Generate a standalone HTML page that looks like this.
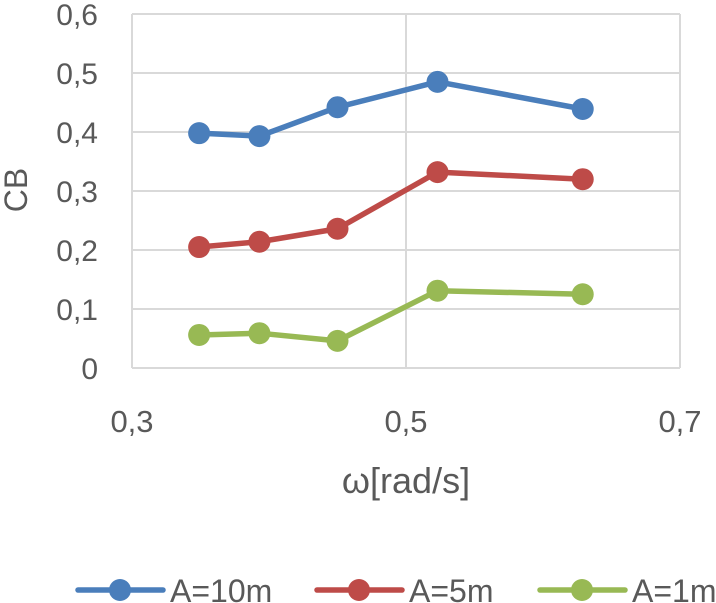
<!DOCTYPE html>
<html><head><meta charset="utf-8"><style>
body{margin:0;background:#fff;}
svg{display:block;font-family:"Liberation Sans","DejaVu Sans",sans-serif;}
</style></head><body>
<svg id="chart" width="716" height="603"></svg>
<script>
const xValues=[0.349,0.393,0.450,0.523,0.629];
const seriesNames=["A=10m","A=5m","A=1m"];
const seriesA10=[0.398,0.393,0.442,0.485,0.439];
const seriesA5=[0.205,0.214,0.236,0.332,0.320];
const seriesA1=[0.056,0.059,0.046,0.131,0.125];
const yTicks=[0,0.1,0.2,0.3,0.4,0.5,0.6];
const yTickLabels=["0","0,1","0,2","0,3","0,4","0,5","0,6"];
const xTicks=[0.3,0.5,0.7];
const xTickLabels=["0,3","0,5","0,7"];
const colors=["#4a7ebb","#be4b48","#98b954"];
const NS="http://www.w3.org/2000/svg";
const svg=document.getElementById('chart');
const X=v=>132+(v-0.3)/0.4*548;
const Y=v=>368-v/0.6*354;
function mk(t,a){const e=document.createElementNS(NS,t);for(const k in a)e.setAttribute(k,a[k]);svg.appendChild(e);return e;}
yTicks.forEach((t,i)=>{
 const l=mk('line',{x1:132,x2:680,y1:Y(t),y2:Y(t),stroke:'#d9d9d9','stroke-width':2});
 
 
 const tx=mk('text',{x:98,y:Y(t)+11,'text-anchor':'end','font-size':30,fill:'#595959'});
 tx.textContent=yTickLabels[i];
 
 
});
xTicks.forEach((t,i)=>{
 const l=mk('line',{x1:X(t),x2:X(t),y1:Y(0.6),y2:Y(0),stroke:'#d9d9d9','stroke-width':2});
 
 
 const tx=mk('text',{x:X(t),y:432,'text-anchor':'middle','font-size':31,fill:'#595959'});
 tx.textContent=xTickLabels[i];
 
 
});
const yt=mk('text',{x:0,y:0,transform:'translate(27,190) rotate(-90)','text-anchor':'middle','font-size':32,fill:'#595959'});
yt.textContent='CB';


const xt=mk('text',{x:406,y:493,'text-anchor':'middle','font-size':36,fill:'#595959'});
xt.textContent='ω[rad/s]';


[seriesA10,seriesA5,seriesA1].forEach((s,si)=>{
 const p=mk('polyline',{points:s.map((v,i)=>X(xValues[i])+','+Y(v)).join(' '),fill:'none',stroke:colors[si],'stroke-width':5.5,'stroke-linejoin':'round'});
 
 
 s.forEach((v,i)=>{
  const c=mk('circle',{cx:X(xValues[i]),cy:Y(v),r:11,fill:colors[si]});
  
  
 });
});
const legX=[78,317,540];
seriesNames.forEach((n,i)=>{
 const l=mk('line',{x1:legX[i],x2:legX[i]+85,y1:590,y2:590,stroke:colors[i],'stroke-width':5.5,'stroke-linecap':'round'});
 
 
 const c=mk('circle',{cx:legX[i]+42,cy:590,r:11,fill:colors[i]});
 
 
 const t=mk('text',{x:legX[i]+92,y:602,'font-size':32,fill:'#595959'});
 t.textContent=n;
 
 
});
</script>
</body></html>
